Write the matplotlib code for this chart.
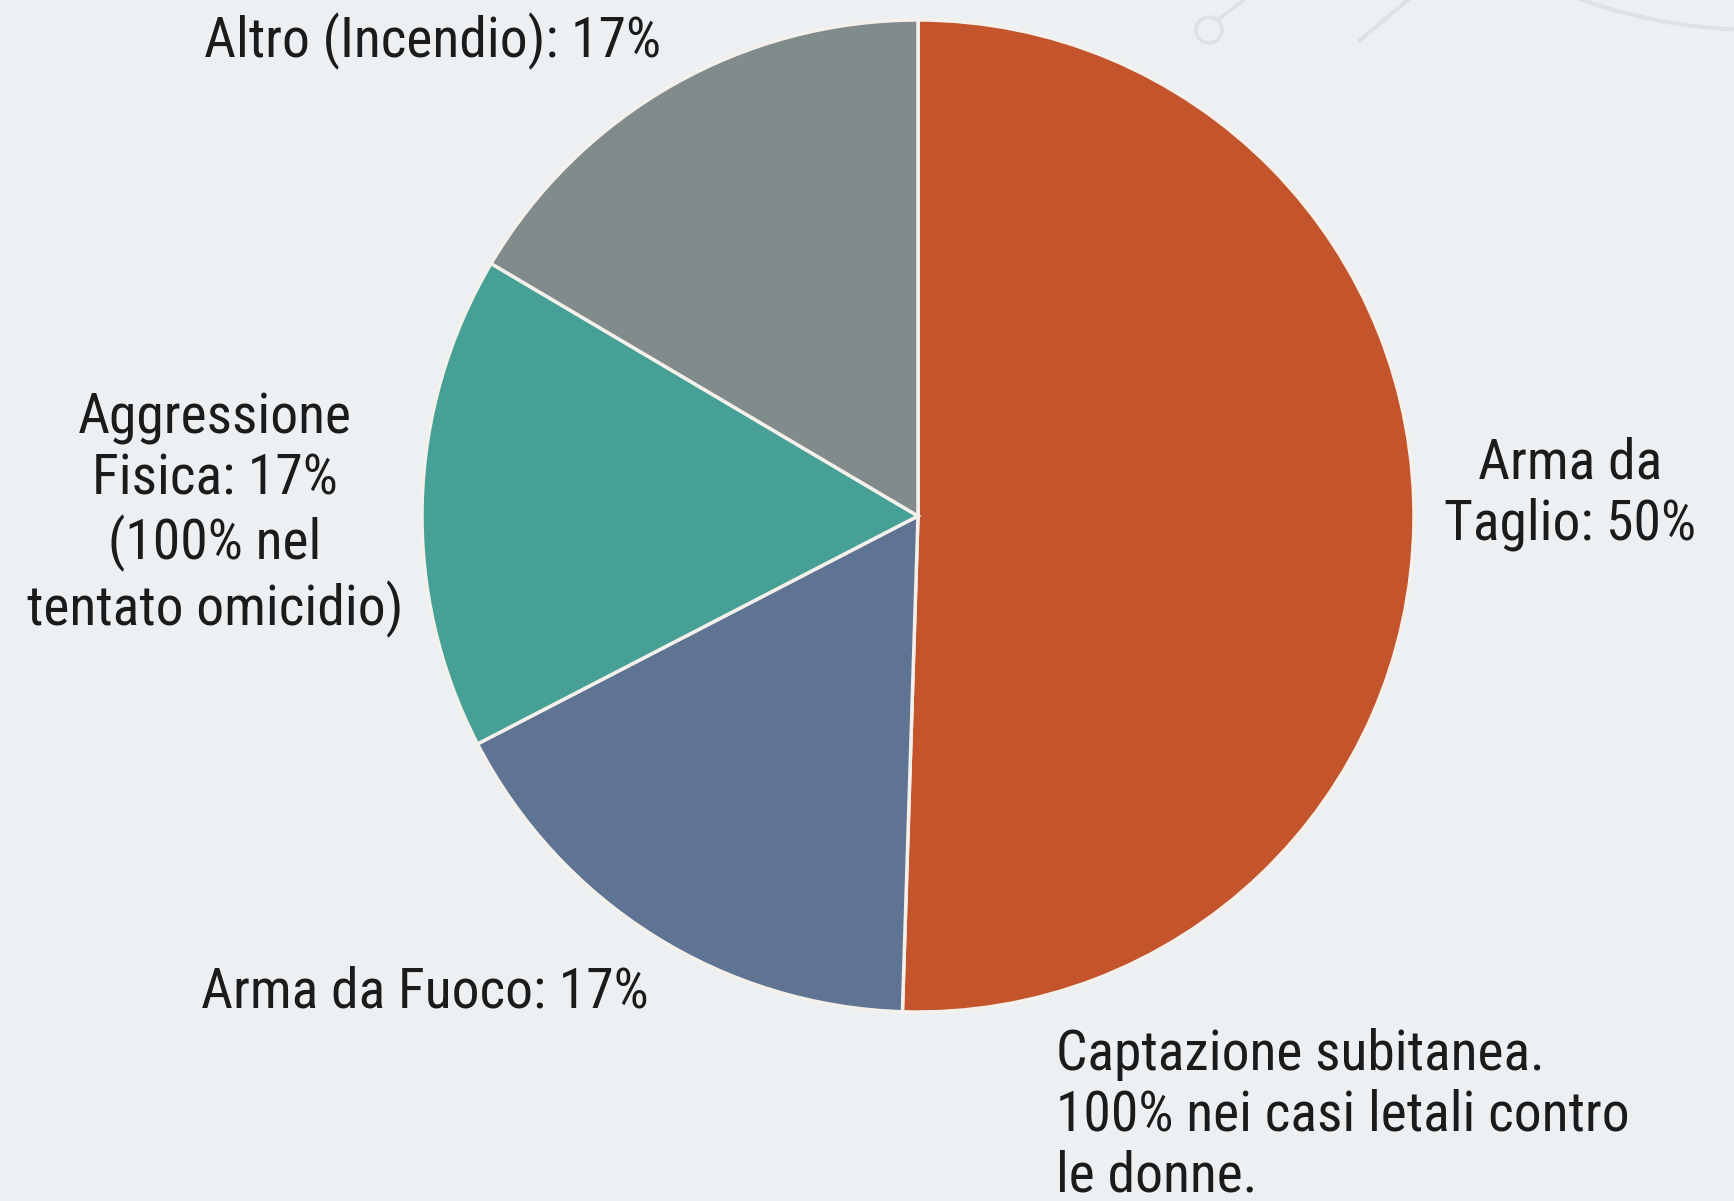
import matplotlib
matplotlib.use("Agg")
import matplotlib.pyplot as plt
from matplotlib.patches import Circle, Arc

categories = ["Arma da Taglio", "Arma da Fuoco", "Aggressione Fisica", "Altro (Incendio)"]
values = [50.5, 16.9, 16.1, 16.5]
colors = ["#C4542B", "#5F7393", "#47A096", "#818B8B"]
labels = [
    "Arma da\nTaglio: 50%",
    "Arma da Fuoco: 17%",
    "Aggressione\nFisica: 17%\n(100% nel\ntentato omicidio)",
    "Altro (Incendio): 17%",
]
note = "Captazione subitanea.\n100% nei casi letali contro\nle donne."

plt.rcParams['font.family'] = ['Roboto Condensed', 'Liberation Sans Narrow', 'Roboto', 'DejaVu Sans']

W, H = 1734, 1201
fig = plt.figure(figsize=(W / 100, H / 100), dpi=100)
bg = "#EDF0F2"
fig.patch.set_facecolor(bg)
ax = fig.add_axes([0, 0, 1, 1])
ax.set_xlim(0, W)
ax.set_ylim(0, H)
ax.set_aspect('equal')
ax.axis('off')
ax.set_facecolor(bg)

# faint decoration top-right
deco = "#DDE2E6"
ax.add_patch(Circle((1209, H - 30), 13, fill=False, ec=deco, lw=2.5))
ax.plot([1218, 1250], [H - 20, H + 5], color=deco, lw=2.5)
ax.add_patch(Arc((1760, H + 230), 760, 520, theta1=195, theta2=290, ec=deco, lw=3))
ax.plot([1360, 1420], [H - 40, H + 10], color=deco, lw=3)
ax.add_patch(Arc((1760, H + 170), 620, 290, theta1=180, theta2=300, ec="#E2E6EA", lw=22))

cx, cy, r = 918, H - 516, 496
ax.pie(values, colors=colors, startangle=90, counterclock=False,
       center=(cx, cy), radius=r, frame=True,
       wedgeprops=dict(edgecolor="#F4F1EC", linewidth=2.5))
ax.set_xlim(0, W)
ax.set_ylim(0, H)
ax.axis('off')

tc = "#1B1B1B"
fs = 40
ls = 1.19
ax.text(1570, H - 494, labels[0], ha='center', va='center', fontsize=fs, color=tc, linespacing=ls)
ax.text(425, H - 992, labels[1], ha='center', va='center', fontsize=fs, color=tc, linespacing=ls)
ax.text(215, H - 515, labels[2], ha='center', va='center', fontsize=fs, color=tc, linespacing=ls)
ax.text(433, H - 41, labels[3], ha='center', va='center', fontsize=fs, color=tc, linespacing=ls)
ax.text(1056, H - 1115, note, ha='left', va='center', fontsize=fs, color=tc, linespacing=ls)

fig.savefig("out.png", dpi=100, facecolor=bg)
